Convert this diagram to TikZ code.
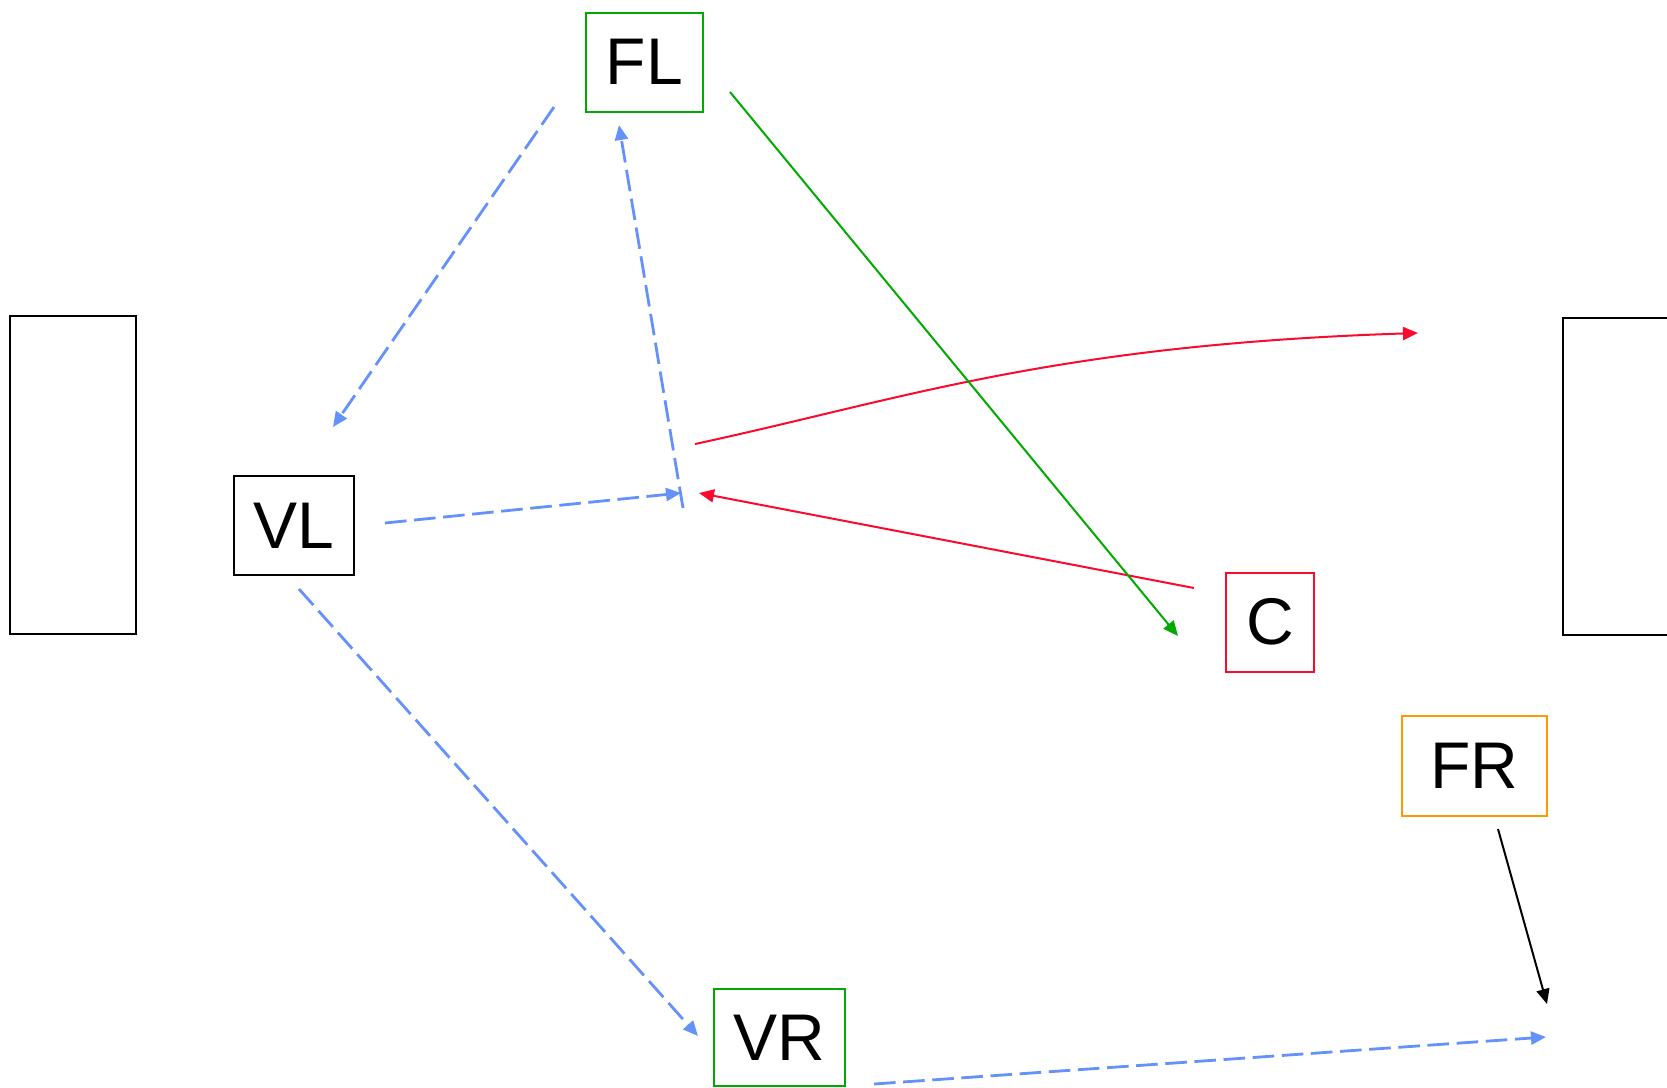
\documentclass[tikz,border=0pt]{standalone}
\usepackage{fontspec}
\setmainfont{Liberation Sans}
\usetikzlibrary{arrows.meta}
\definecolor{flowblue}{RGB}{100,145,250}
\definecolor{flowred}{RGB}{250,10,45}
\definecolor{flowgreen}{RGB}{0,170,0}
\definecolor{flowamber}{RGB}{255,153,0}
\begin{document}
\begin{tikzpicture}[
  x=0.5pt, y=-0.5pt,
  box/.style={rectangle, draw, line width=1pt, inner sep=0pt, font=\fontsize{33}{38}\selectfont},
  wall/.style={rectangle, draw, line width=1.2pt, inner sep=0pt},
  arrow/.style={-{Triangle[length=7.5pt,width=6.5pt]}, line width=1pt},
  dasharrow/.style={arrow, flowblue, line width=1.4pt, dash pattern=on 10.8pt off 3.8pt},
]
  \useasboundingbox (0,0) rectangle (1667,1088);

  % boxes
  \node[wall, minimum width=63pt, minimum height=159pt] (wl) at (73,475) {};
  \node[wall, minimum width=75pt, minimum height=158.5pt] (wr) at (1638,476.5) {};
  \node[box, flowgreen, minimum width=58.8pt, minimum height=49.5pt, text=black] (fl) at (644.5,62.2) {FL};
  \node[box, minimum width=60pt, minimum height=49.5pt] (vl) at (294,525.5) {VL};
  \node[box, flowred, minimum width=44pt, minimum height=49.5pt, text=black] (c) at (1270,622) {C};
  \node[box, flowamber, minimum width=72.3pt, minimum height=49.8pt, text=black] (fr) at (1474.3,766) {FR\hspace{15pt}};
  \node[box, flowgreen, minimum width=65.7pt, minimum height=48.5pt, text=black] (vr) at (779.3,1037.5) {VR};

  % connector ends
  \coordinate (fl1) at (554,107);
  \coordinate (vl1) at (333,427);
  \coordinate (hub1) at (683,508);
  \coordinate (fl2) at (619,125);
  \coordinate (vl2) at (385,523);
  \coordinate (hub2) at (681,493);
  \coordinate (c1) at (1194,588);
  \coordinate (hub3) at (699,493);
  \coordinate (hub4) at (695,444);
  \coordinate (wr1) at (1418,333);
  \coordinate (fl3) at (730,92);
  \coordinate (c2) at (1178,636);
  \coordinate (vl3) at (299,589);
  \coordinate (vr1) at (698,1036);
  \coordinate (vr2) at (874,1084);
  \coordinate (out1) at (1546,1037);
  \coordinate (fr1) at (1498,829);
  \coordinate (out2) at (1547,1004);

  % connectors
  \draw[dasharrow] (fl1) -- (vl1);
  \draw[dasharrow] (hub1) -- (fl2);
  \draw[dasharrow] (vl2) -- (hub2);
  \draw[arrow, flowred] (c1) -- (hub3);
  \draw[arrow, flowred] (hub4) .. controls (900,400) and (1050,345) .. (wr1);
  \draw[arrow, flowgreen] (fl3) -- (c2);
  \draw[dasharrow] (vl3) -- (vr1);
  \draw[dasharrow] (vr2) -- (out1);
  \draw[arrow, black] (fr1) -- (out2);
\end{tikzpicture}
\end{document}
